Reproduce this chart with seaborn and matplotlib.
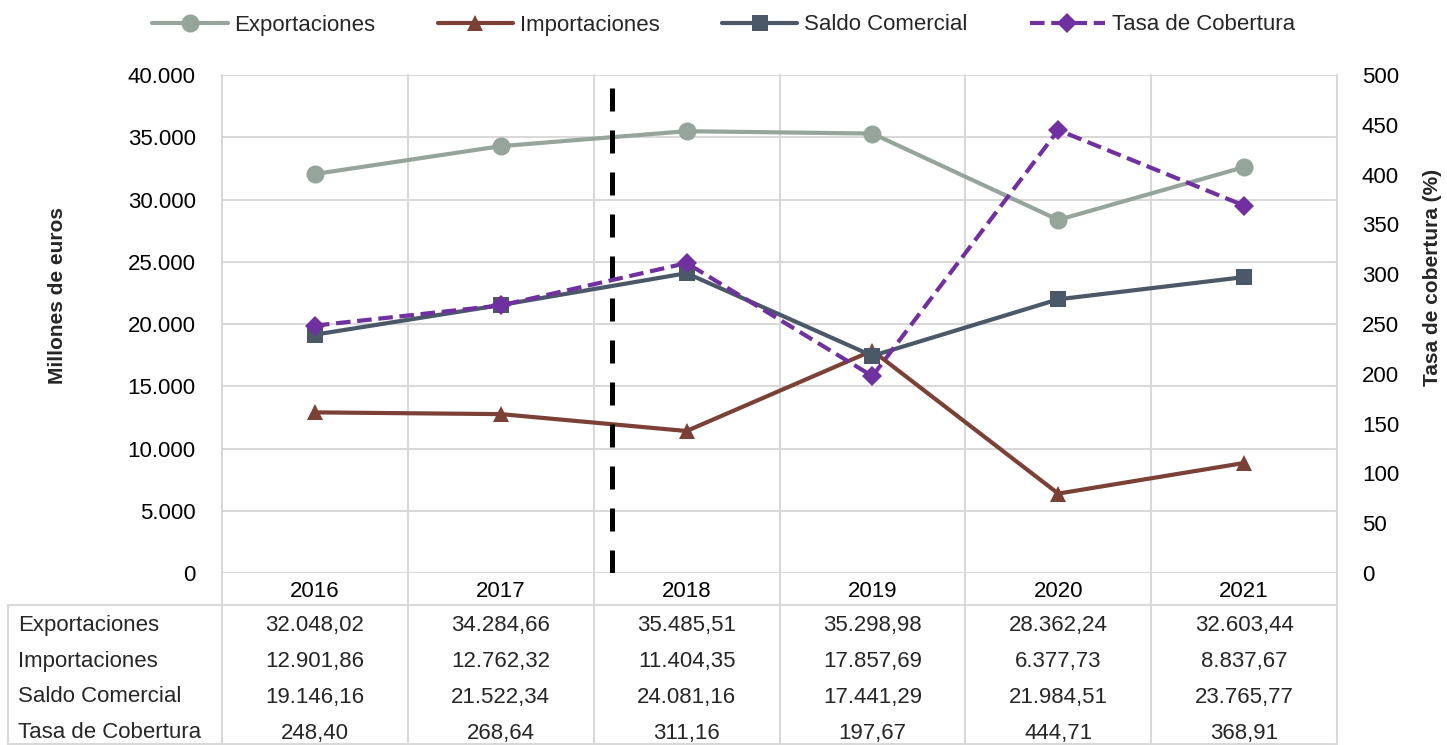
import numpy as np
import matplotlib
matplotlib.use("Agg")
import matplotlib.pyplot as plt
import matplotlib.transforms as mtransforms
from matplotlib.lines import Line2D
from matplotlib.ticker import FuncFormatter
import seaborn as sns

# datos (millones de euros y %)
years = ["2016", "2017", "2018", "2019", "2020", "2021"]
exportaciones = [32048.02, 34284.66, 35485.51, 35298.98, 28362.24, 32603.44]
importaciones = [12901.86, 12762.32, 11404.35, 17857.69, 6377.73, 8837.67]
saldo = [19146.16, 21522.34, 24081.16, 17441.29, 21984.51, 23765.77]
tasa = [248.40, 268.64, 311.16, 197.67, 444.71, 368.91]
series_names = ["Exportaciones", "Importaciones", "Saldo Comercial", "Tasa de Cobertura"]

c_exp = "#95A59C"
c_imp = "#7B4136"
c_sal = "#4A5867"
c_tas = "#7030A0"
grid_c = "#D9D9D9"
fs = 16


def es_fmt(v, dec=2):
    s = f"{v:,.{dec}f}"
    return s.replace(",", "X").replace(".", ",").replace("X", ".")


sns.set_style("white")
plt.rcParams["font.family"] = ["Liberation Sans", "DejaVu Sans"]

fig = plt.figure(figsize=(14.47, 7.45), dpi=100)
W, H = 1447, 745
ax = fig.add_axes([222 / W, 1 - 573 / H, (1337 - 222) / W, (573 - 75) / H])
ax2 = ax.twinx()

pos = np.arange(len(years))
lw = 3
sns.lineplot(x=pos, y=exportaciones, ax=ax, color=c_exp, linewidth=lw,
             marker="o", markersize=13, markeredgewidth=0)
sns.lineplot(x=pos, y=importaciones, ax=ax, color=c_imp, linewidth=lw,
             marker="^", markersize=11, markeredgewidth=0)
sns.lineplot(x=pos, y=saldo, ax=ax, color=c_sal, linewidth=lw,
             marker="s", markersize=12, markeredgewidth=0)
sns.lineplot(x=pos, y=tasa, ax=ax2, color=c_tas, linewidth=lw,
             linestyle=(0, (3.5, 1.6)), marker="D", markersize=10, markeredgewidth=0)

ax.set_xlim(-0.5, len(years) - 0.5)
ax.set_ylim(0, 40000)
ax2.set_ylim(0, 500)
ax.set_yticks(np.arange(0, 40001, 5000))
ax2.set_yticks(np.arange(0, 501, 50))
ax.yaxis.set_major_formatter(FuncFormatter(lambda v, p: es_fmt(v, 0)))
ax.set_xticks(pos, years)

for a in (ax, ax2):
    for s in a.spines.values():
        s.set_visible(False)
    a.tick_params(length=0, labelsize=fs, colors="black")
ax.tick_params(axis="y", pad=19)
ax2.tick_params(axis="y", pad=18)
ax.tick_params(axis="x", pad=6)

ax.grid(axis="y", color=grid_c, linewidth=1.5)
ax.set_axisbelow(True)
fig.text(58 / W, 1 - 295 / H, "Millones de euros", fontsize=15, fontweight="bold",
         rotation=90, ha="center", va="center")
fig.text(1432 / W, 1 - 277 / H, "Tasa de cobertura (%)", fontsize=15, fontweight="bold",
         rotation=90, ha="center", va="center")

# linea discontinua de referencia
ax.axvline(1.6, ymin=0, ymax=(573 - 88) / 498, color="black", linewidth=3.6,
           linestyle=(0, (4.6, 3.8)), zorder=5)

# tabla de datos
ytab_bottom = (573 - 745) / 498
for xb in np.arange(-0.5, len(years), 1.0):
    ax.plot([xb, xb], [1, ytab_bottom], transform=ax.get_xaxis_transform(),
            color=grid_c, linewidth=1.5, clip_on=False, zorder=0)
fig.add_artist(Line2D([8 / W, 1337 / W], [1 - 605 / H] * 2, color=grid_c, linewidth=1.5))
fig.add_artist(Line2D([8 / W, 1337 / W], [0.001] * 2, color=grid_c, linewidth=1.5))
fig.add_artist(Line2D([8 / W] * 2, [1 - 605 / H, 0], color=grid_c, linewidth=1.5))

row_y = [626, 662, 697, 733]
rows = [exportaciones, importaciones, saldo, tasa]
lab_tr = mtransforms.blended_transform_factory(fig.transFigure, ax.transAxes)
val_tr = ax.get_xaxis_transform()
for name, vals, yc in zip(series_names, rows, row_y):
    ya = (573 - yc) / 498
    ax.text(18 / W, ya, name, transform=lab_tr, fontsize=fs, ha="left", va="center")
    for i, v in enumerate(vals):
        ax.text(i, ya, es_fmt(v), transform=val_tr, fontsize=fs, ha="center", va="center")

# leyenda
handles = [
    Line2D([], [], color=c_exp, lw=lw, marker="o", markersize=13, markeredgewidth=0),
    Line2D([], [], color=c_imp, lw=lw, marker="^", markersize=11, markeredgewidth=0),
    Line2D([], [], color=c_sal, lw=lw, marker="s", markersize=12, markeredgewidth=0),
    Line2D([], [], color=c_tas, lw=lw, ls=(0, (3.5, 1.6)), marker="D", markersize=10, markeredgewidth=0),
]
fig.legend(handles, series_names, loc="center", bbox_to_anchor=(0.5, 1 - 25 / H), ncol=4,
           frameon=False, fontsize=fs, handlelength=3.4, handletextpad=0.3, columnspacing=2.8)

fig.savefig("out.png", dpi=100)
